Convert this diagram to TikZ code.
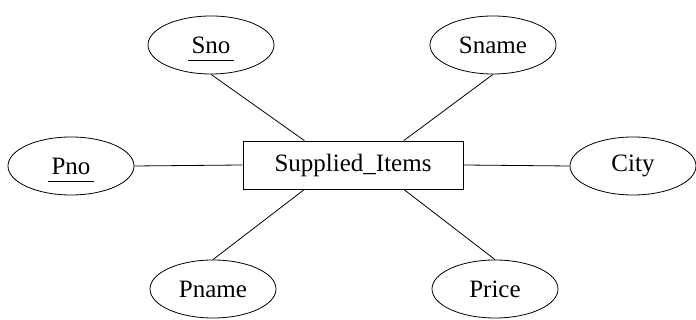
\documentclass[tikz,border=0pt]{standalone}
\usepackage{fontspec}
\setmainfont{Liberation Serif}
\usetikzlibrary{positioning,shapes.geometric,calc}
\newcommand{\keyattr}[1]{\setbox0=\hbox{#1}\copy0\llap{\smash{\rule[-8pt]{\dimexpr\wd0+8pt\relax}{0.8pt}}\hspace{-4pt}}}

\begin{document}
\begin{tikzpicture}[x=1pt, y=1pt,
  attr/.style={draw, ellipse, minimum width=126pt, minimum height=58pt, inner sep=0pt,
               font=\fontsize{25}{30}\selectfont},
  entity/.style={draw, rectangle, minimum width=220pt, minimum height=48pt, inner sep=0pt,
                 font=\fontsize{25}{30}\selectfont},
  link/.style={line width=0.8pt}, every node/.append style={line width=0.8pt}]
  \useasboundingbox (0,0) rectangle (696,320);
  \node[entity] (items) at (353,155) {Supplied\_Items};
  \node[attr] (sno)   at (211,275) {\keyattr{Sno}};
  \node[attr] (sname) at (493,275) {Sname};
  \node[attr] (pno)   at (71,154)  {\keyattr{Pno}};
  \node[attr] (city)  at (633,154) {City};
  \node[attr] (pname) at (213,31)  {Pname};
  \node[attr] (price) at (495,31)  {Price};
  % connectors
  \draw[link] (sno.south)   -- ($(items.north west)!0.28!(items.north east)$);
  \draw[link] (sname.south) -- ($(items.north west)!0.73!(items.north east)$);
  \draw[link] (pno.east)    -- (items.west);
  \draw[link] (items.east)  -- (city.west);
  \draw[link] (pname.north) -- ($(items.south west)!0.28!(items.south east)$);
  \draw[link] (price.north) -- ($(items.south west)!0.73!(items.south east)$);
\end{tikzpicture}
\end{document}
